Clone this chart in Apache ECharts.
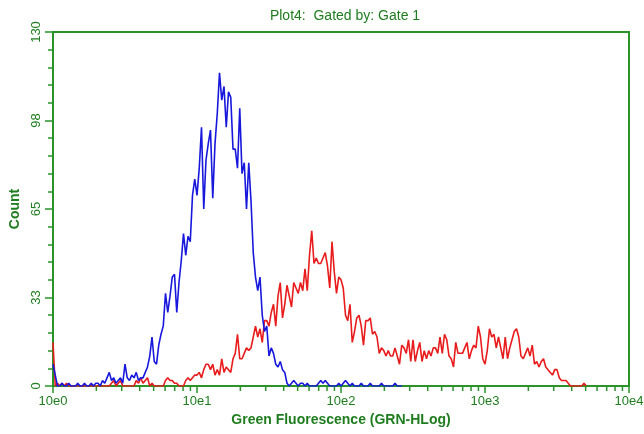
<!DOCTYPE html>
<html>
<head>
<meta charset="utf-8">
<script src="https://cdn.jsdelivr.net/npm/echarts@6/dist/echarts.min.js"></script>
<style>
html,body{margin:0;padding:0;background:#fff;}
#chart{width:644px;height:434px;}
</style>
</head>
<body>
<div id="chart"></div>
<script>
// Histogram counts per channel (256 channels over 4 log decades, 64 channels/decade)
const channelsPerDecade = 64;
const blueCounts = [
 8,4,0,0,1,0,0,1,0,0, 0,1,0,0,1,0,0,1,0,1,
 1,0,2,1,3,5,2,3,1,2, 3,1,8,3,2,4,3,5,2,3,
 3,5,7,11,18,9,8,15,19,22, 34,27,33,40,41,27,38,46,56,48,
 55,53,70,76,70,80,95,65,83,89, 94,69,89,100,115,105,110,95,108,106,
 87,87,80,102,78,82,65,82,68,49, 40,35,40,26,20,22,11,14,12,8,
 7,9,6,5,1,0,1,2,1,0, 1,1,0,1,0,0,0,0,1,2,
 1,2,1,0,0,0,0,1,0,1, 2,1,0,1,0,0,0,1,0,0,
 0,1,0,0,0,0,1,0,0,0, 0,0,1,0,0,0
];
const redCounts = [
 16,0,1,0,1,0,1,0,0,0, 0,0,0,0,0,0,0,0,0,0,
 0,0,0,0,0,0,1,2,0,1, 2,0,0,0,0,0,0,2,1,3,
 1,2,3,0,1,0,0,0,0,0, 2,3,2,2,1,1,0,0,0,2,
 3,2,3,4,4,5,3,6,8,8, 6,8,4,6,4,10,5,7,6,5,
 10,12,19,10,10,12,14,13,14,18, 22,18,21,16,24,24,22,27,30,22,
 33,38,25,30,37,33,29,38,36,34, 38,35,43,35,48,57,45,47,45,45,
 47,49,44,36,53,42,34,40,39,36, 26,24,30,16,20,25,26,22,15,24,
 24,25,19,20,18,12,14,13,11,13, 11,11,14,11,8,15,14,12,17,9,
 17,9,13,16,9,13,10,13,11,14, 14,12,18,12,19,17,11,10,7,16,
 12,12,12,14,16,10,13,15,14,22, 18,10,8,13,21,18,19,14,18,14,
 10,18,10,14,17,20,21,18,11,10, 12,14,11,15,8,9,7,9,10,7,
 6,5,4,6,6,3,2,2,2,1, 0,0,0,0,0,0,1,0
];
const xMajorTicks = [1, 10, 100, 1000, 10000];
const xMinorTicks = [];
[1, 10, 100, 1000].forEach(function (d) {
  [2, 3, 4, 5, 6, 7, 8, 9].forEach(function (k) { xMinorTicks.push(k * d); });
});
const yTicks = [0, 32.5, 65, 97.5, 130];

function toPoints(counts) {
  return counts.map(function (c, ch) { return [Math.pow(10, ch / channelsPerDecade), c]; });
}

const green = '#2a932a';
const textGreen = '#1f7d1f';
const font = 'Liberation Sans, Arial, sans-serif';

const chart = echarts.init(document.getElementById('chart'), null, {renderer: 'canvas'});
chart.setOption({
  animation: false,
  backgroundColor: '#ffffff',
  title: {
    text: 'Plot4:  Gated by: Gate 1',
    left: 340, top: 4, textAlign: 'center',
    textStyle: {color: textGreen, fontSize: 14, fontWeight: 'normal', fontFamily: font}
  },
  grid: {
    left: 53, top: 32, right: 15, bottom: 48,
    containLabel: false, outerBoundsMode: 'none',
    show: true, borderColor: green, borderWidth: 2, backgroundColor: 'transparent'
  },
  xAxis: {
    type: 'log', logBase: 10, min: xMajorTicks[0], max: xMajorTicks[xMajorTicks.length - 1], splitNumber: 4,
    name: 'Green Fluorescence (GRN-HLog)', nameLocation: 'middle', nameGap: 26,
    nameTextStyle: {color: textGreen, fontSize: 14, fontWeight: 'bold', fontFamily: font},
    axisLine: {show: true, lineStyle: {color: green, width: 2}},
    axisTick: {show: true, inside: false, length: 7, lineStyle: {color: green, width: 1.5}},
    axisLabel: {
      color: textGreen, fontSize: 13, fontFamily: font, margin: 9,
      formatter: function (v) { return '10e' + Math.round(Math.log10(v)); }
    },
    splitLine: {show: false}
  },
  yAxis: {
    type: 'value', min: yTicks[0], max: yTicks[yTicks.length - 1], interval: yTicks[1] - yTicks[0],
    name: 'Count', nameLocation: 'middle', nameGap: 28, nameRotate: 90,
    nameTextStyle: {color: textGreen, fontSize: 14, fontWeight: 'bold', fontFamily: font},
    axisLine: {show: true, lineStyle: {color: green, width: 2}},
    axisTick: {show: true, inside: false, length: 8, lineStyle: {color: green, width: 1.5}},
    minorTick: {show: true, splitNumber: 5, length: 5, lineStyle: {color: green, width: 1.5}},
    axisLabel: {
      color: textGreen, fontSize: 13, fontFamily: font, rotate: 90, margin: 10,
      formatter: function (v) { return String(Math.round(v)); }
    },
    splitLine: {show: false}
  },
  series: [
    {
      type: 'custom', name: 'minorTicks', silent: true, clip: false,
      data: xMinorTicks.map(function (v) { return [v, 0]; }),
      renderItem: function (params, api) {
        const p = api.coord([api.value(0), 0]);
        return {type: 'line', shape: {x1: p[0], y1: p[1], x2: p[0], y2: p[1] + 5},
          style: {stroke: green, lineWidth: 1.5}};
      },
      z: 1
    },
    {
      type: 'line', name: 'red', data: toPoints(redCounts), showSymbol: false, symbol: 'none',
      lineStyle: {color: '#e81c1c', width: 1.6}, z: 3
    },
    {
      type: 'line', name: 'blue', data: toPoints(blueCounts), showSymbol: false, symbol: 'none',
      lineStyle: {color: '#1818dd', width: 1.6}, z: 4
    }
  ]
});
</script>
</body>
</html>
